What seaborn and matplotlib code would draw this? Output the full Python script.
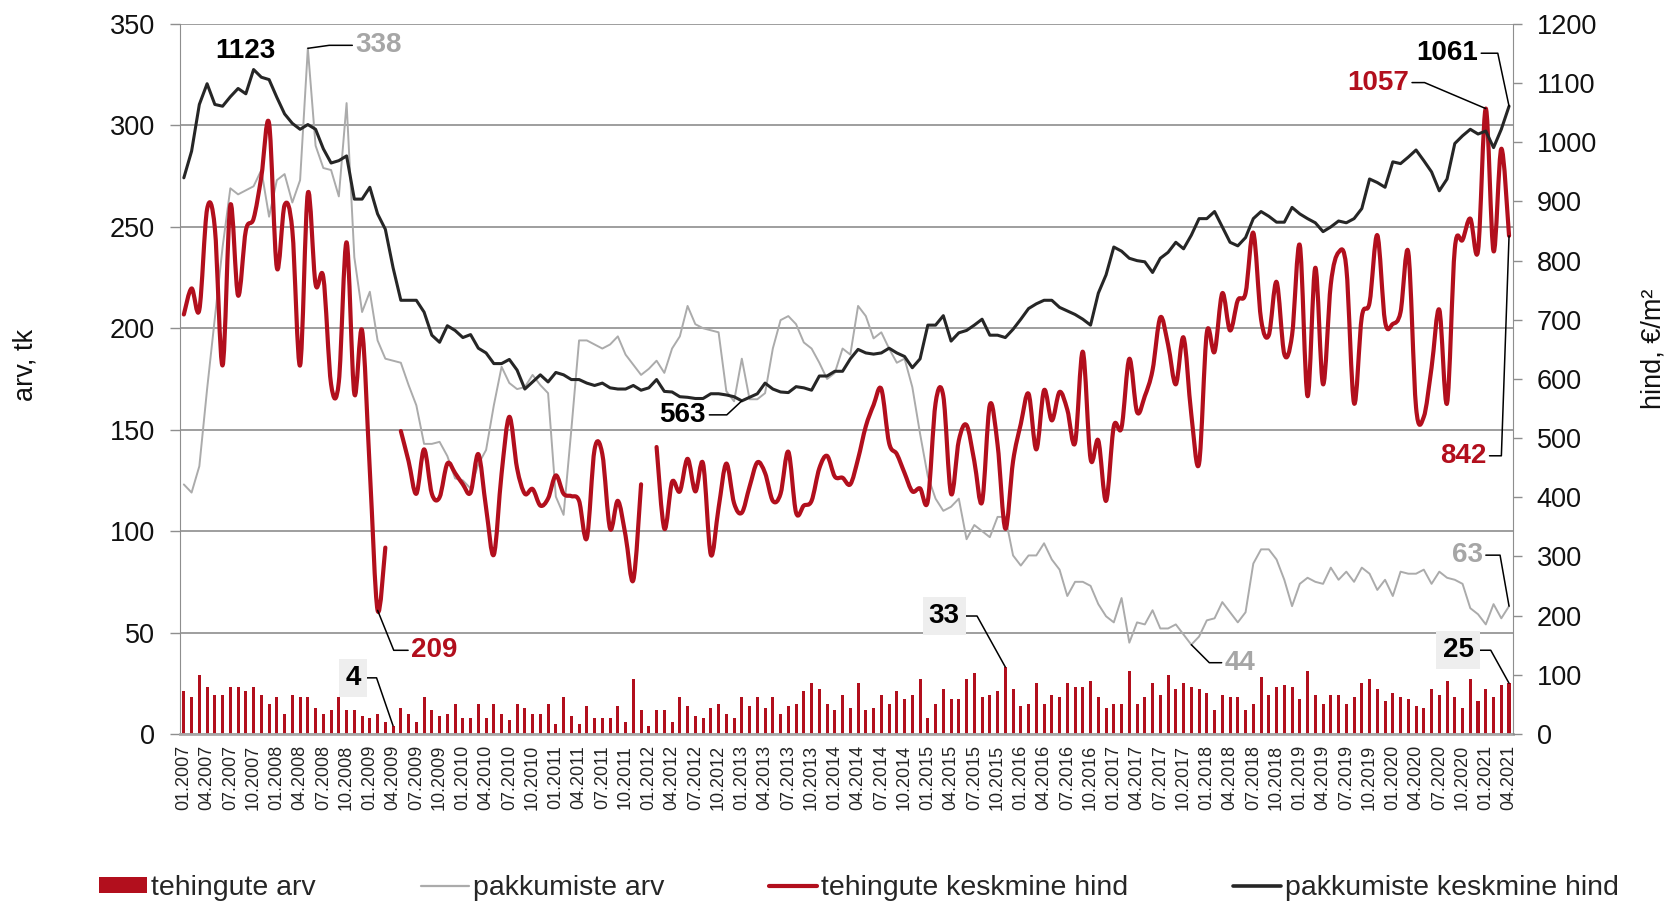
import numpy as np
import pandas as pd
import matplotlib
matplotlib.use('Agg')
import matplotlib.pyplot as plt
from matplotlib.path import Path
from matplotlib.patches import PathPatch, Patch
from matplotlib.lines import Line2D
from matplotlib import font_manager
import seaborn as sns

# tehingute arv (bars, left axis)
deals = [21, 18, 29, 23, 19, 19, 23, 23, 21, 23, 19, 15, 18, 10, 19, 18, 18, 13, 10, 12, 18, 12, 12, 9, 8, 10, 6, 4, 13, 10,
         6, 18, 12, 9, 10, 15, 8, 8, 15, 8, 15, 10, 7, 15, 13, 10, 10, 15, 5, 18, 9, 5, 14, 8, 8, 8, 14, 6, 27, 12,
         4, 12, 12, 6, 18, 14, 9, 8, 13, 15, 10, 8, 18, 14, 18, 13, 18, 10, 14, 15, 21, 25, 22, 15, 12, 19, 13, 25,
         12, 13, 19, 15, 21, 17, 19, 27, 8, 15, 22, 17, 17, 27, 30, 18, 19, 21, 33, 22, 14, 15, 25, 15, 19, 18, 25, 23, 23, 26, 18,
         13, 15, 15, 31, 15, 18, 25, 19, 29, 22, 25, 23, 22, 20, 12, 19, 18, 18, 12, 15, 28, 19, 23, 24,
         23, 17, 31, 19, 15, 19, 19, 15, 18, 25, 27, 22, 16, 20, 18, 17, 14, 13, 22, 19, 26, 18, 13, 27, 16, 22, 18, 24, 25]

# pakkumiste arv (grey line, left axis)
offers = [123, 119, 132, 170, 205, 240, 269, 266, 268, 270, 278, 255, 273, 276, 262, 273, 338, 290, 279, 278, 265, 311, 235, 208, 218, 194, 185, 184, 183, 172,
          162, 143, 143, 144, 137, 126, 125, 121, 133, 140, 162, 181, 173, 170, 171, 177, 172, 168, 117, 108, 150, 194, 194, 192, 190, 192, 196, 187, 182, 177,
          180, 184, 178, 190, 196, 211, 202, 200, 199, 198, 169, 164, 185, 165, 165, 168, 190, 204, 206, 202, 193, 190, 183, 175, 178, 190, 187, 211, 206,
          195, 198, 190, 183, 185, 171, 148, 127, 116, 110, 112, 116, 96, 103, 100, 97, 107, 107, 88, 83, 88, 88, 94, 86, 81, 68, 75, 75, 73, 64,
          58, 55, 67, 45, 55, 54, 61, 52, 52, 54, 49, 44, 48, 56, 57, 65, 60, 55, 60, 84, 91, 91, 86, 76, 63, 74, 77, 75, 74, 82,
          76, 80, 75, 82, 79, 71, 76, 68, 80, 79, 79, 81, 74, 80, 77, 76, 74, 62, 59, 54, 64, 57, 63]

# tehingute keskmine hind (red line, right axis); nan = no value
deal_price = [709, 753, 717, 887, 855, 623, 894, 741, 851, 871, 942, 1032, 788, 894, 851, 623, 914, 760, 772, 591, 595, 831, 575, 682, 445, 209, 315, np.nan, 512, 461,
              406, 481, 406, 400, 457, 441, 422, 408, 473, 382, 303, 440, 536, 449, 406, 414, 386, 398, 437, 406, 402, 394, 331, 481, 473, 347, 394, 335, 260, 422,
              np.nan, 485, 347, 426, 410, 465, 410, 457, 303, 382, 457, 390, 374, 418, 459, 441, 394, 406, 477, 374, 386, 394, 449, 470, 435, 433, 422, 465, 520,
              556, 583, 492, 473, 441, 410, 415, 394, 559, 571, 406, 496, 522, 461, 392, 556, 489, 347, 461, 524, 575, 481, 581, 530, 578, 548, 492, 646, 465, 496,
              394, 520, 518, 634, 544, 571, 615, 704, 658, 591, 670, 540, 457, 678, 646, 745, 682, 733, 745, 847, 701, 674, 764, 642, 674, 826, 571, 788, 591, 760,
              814, 788, 559, 705, 729, 843, 697, 693, 713, 814, 552, 536, 619, 717, 559, 820, 835, 871, 817, 1057, 816, 989, 842]

# pakkumiste keskmine hind (black line, right axis)
offer_price = [940, 985, 1064, 1099, 1064, 1061, 1077, 1091, 1082, 1123, 1110, 1106, 1076, 1048, 1032, 1022, 1030, 1022, 989, 965, 969, 977, 904, 904, 924, 879, 853, 788, 733, 733,
               733, 713, 674, 662, 690, 682, 670, 675, 652, 644, 626, 626, 633, 615, 583, 595, 607, 595, 611, 607, 599, 599, 593, 589, 593, 585, 583, 583, 589, 581,
               585, 599, 579, 578, 570, 569, 567, 567, 575, 575, 573, 570, 563, 569, 575, 593, 583, 578, 577, 587, 585, 581, 605, 605, 613, 613, 634, 650, 644,
               642, 644, 652, 644, 638, 619, 634, 691, 691, 707, 664, 678, 682, 691, 701, 674, 674, 670, 684, 701, 719, 727, 733, 733, 721, 715, 709, 701, 691, 745,
               776, 823, 816, 804, 800, 798, 780, 804, 814, 831, 820, 843, 871, 871, 883, 857, 831, 825, 839, 871, 883, 875, 865, 865, 890, 879, 871, 864, 849, 857,
               867, 864, 871, 888, 938, 932, 924, 967, 964, 975, 987, 969, 950, 918, 938, 998, 1011, 1022, 1014, 1019, 991, 1022, 1061]

months = [f'{m:02d}.{y}' for y in range(2007, 2022) for m in range(1, 13)][:len(deals)]
tick_labels = months[::3]

legend_labels = ['tehingute arv', 'pakkumiste arv', 'tehingute keskmine hind', 'pakkumiste keskmine hind']

df = pd.DataFrame({'i': np.arange(len(deals)), 'kuu': months, 'deals': deals, 'offers': offers,
                   'deal_price': deal_price, 'offer_price': offer_price})

RED = '#b20f1d'
GREY = '#ababab'
BLACK = '#262626'
GRID = '#8e8e8e'

sns.set_style('white')
names = {f.name for f in font_manager.fontManager.ttflist}
narrow = 'Liberation Sans Narrow' in names
plt.rcParams['font.family'] = ['Liberation Sans', 'DejaVu Sans']
title_font = ['Liberation Sans Narrow', 'Liberation Sans'] if narrow else ['Liberation Sans', 'DejaVu Sans']
title_size = 24 if narrow else 19.5
leg_size = 25 if narrow else 20.5


def smooth_path(x, y):
    # Excel-like smoothed line: Catmull-Rom segments as cubic Bezier, gaps at nan
    x = np.asarray(x, float)
    y = np.asarray(y, float)
    ok = ~np.isnan(y)
    runs, start = [], None
    for k in range(len(y)):
        if ok[k] and start is None:
            start = k
        if not ok[k] and start is not None:
            runs.append((start, k))
            start = None
    if start is not None:
        runs.append((start, len(y)))
    verts, codes = [], []
    for a, b in runs:
        px, py = x[a:b], y[a:b]
        n = len(px)
        verts.append((px[0], py[0]))
        codes.append(Path.MOVETO)
        for k in range(n - 1):
            k0, k3 = max(k - 1, 0), min(k + 2, n - 1)
            c1 = (px[k] + (px[k + 1] - px[k0]) / 6, py[k] + (py[k + 1] - py[k0]) / 6)
            c2 = (px[k + 1] - (px[k3] - px[k]) / 6, py[k + 1] - (py[k3] - py[k]) / 6)
            verts += [c1, c2, (px[k + 1], py[k + 1])]
            codes += [Path.CURVE4] * 3
    return Path(verts, codes)


fig = plt.figure(figsize=(16.71, 9.05), dpi=100)
ax = fig.add_axes([0.1077, 0.1890, 0.7977, 0.7845])

sns.barplot(data=df, x='i', y='deals', ax=ax, color=RED, width=0.4, native_scale=True,
            saturation=1, errorbar=None, linewidth=0)
sns.lineplot(data=df, x='i', y='offers', ax=ax, color=GREY, lw=1.4)

ax2 = ax.twinx()
sns.lineplot(data=df, x='i', y='offer_price', ax=ax2, color=BLACK, lw=2.2)
ax2.add_patch(PathPatch(smooth_path(df['i'], df['deal_price']), fc='none', ec=RED, lw=3,
                        capstyle='round', joinstyle='round'))

ax.set_xlim(-0.5, len(deals) - 0.5)
ax.set_ylim(0, 350)
ax2.set_ylim(0, 1200)
ax.set_yticks(range(0, 351, 50))
ax2.set_yticks(range(0, 1201, 100))
ax.set_xticks(range(0, len(deals), 3))
ax.set_xticklabels(tick_labels, rotation=90)
for a in (ax, ax2):
    a.set_xlabel('')
    a.set_ylabel('')

ax.grid(False)
ax2.grid(False)
ax.yaxis.grid(True, color=GRID, lw=1.2)
ax.set_axisbelow(True)

for s in ('top', 'right'):
    ax.spines[s].set_visible(False)
ax.spines['left'].set_color(GRID)
ax.spines['bottom'].set_color('#a8a8a8')
ax.spines['bottom'].set_linewidth(2)
for s in ('top', 'left', 'bottom'):
    ax2.spines[s].set_visible(False)
ax2.spines['right'].set_color(GRID)

ax.tick_params(axis='y', left=True, direction='out', length=7, width=1, color=GRID, pad=11,
               labelsize=19.5, labelcolor='#111111')
ax.tick_params(axis='x', bottom=False, length=0, pad=8, labelsize=13, labelcolor='#222222')
ax2.tick_params(axis='y', right=True, direction='out', length=6.5, width=1, color=GRID, pad=10.5,
                labelsize=19.5, labelcolor='#111111')

fig.text(25 / 1671, 1 - 365 / 905, 'arv, tk', rotation=90, ha='center', va='center',
         fontsize=title_size, family=title_font, color='#111111')
fig.text(1653 / 1671, 1 - 349 / 905, 'hind, €/m²', rotation=90, ha='center', va='center',
         fontsize=title_size, family=title_font, color='#111111')


def note(axis, idx, values, color, offset, angle=None, boxed=False):
    val = values[idx]
    kw = dict(textcoords='offset pixels', ha='center', va='center', fontsize=20,
              fontweight='bold', color=color, annotation_clip=False, zorder=10)
    if boxed:
        kw['bbox'] = dict(boxstyle='square,pad=0.22', fc='#eeeeee', ec='none')
    if angle is not None:
        kw['arrowprops'] = dict(arrowstyle='-', color='black', lw=1.1, shrinkA=0, shrinkB=0,
                                connectionstyle=f'angle,angleA=0,angleB={angle},rad=0')
    ax2.annotate(f'{val:.0f}', xy=(idx, val), xycoords=axis.transData, xytext=offset, **kw)


last = len(deals) - 1
dp = np.array(deal_price, float)
note(ax2, int(np.argmax(offer_price)), offer_price, 'black', (-8, 19))
note(ax, int(np.argmax(offers)), offers, '#a6a6a6', (71, 3), angle=8)
note(ax2, int(np.nanargmin(dp)), dp, RED, (57, -40), angle=-68)
note(ax, int(np.argmin(deals)), deals, 'black', (-40, 48), angle=-71, boxed=True)
note(ax2, int(np.argmin(offer_price)), offer_price, 'black', (-59, -14), angle=43)
note(ax, int(np.argmax(deals)), deals, 'black', (-61, 51), angle=-61, boxed=True)
note(ax, int(np.argmin(offers)), offers, '#a6a6a6', (49, -18), angle=-45)
note(ax2, last, offer_price, 'black', (-62, 53), angle=-78)
note(ax2, int(np.nanargmax(dp)), dp, RED, (-108, 26), angle=-23)
note(ax2, last, dp, RED, (-46, -220), angle=88)
note(ax, last, offers, '#a6a6a6', (-42, 51), angle=-80)
note(ax, last, deals, 'black', (-51, 33), angle=-61, boxed=True)

em = leg_size * 100 / 72
handles = [Patch(facecolor=RED, edgecolor='none'),
           Line2D([], [], color=GREY, lw=1.6),
           Line2D([], [], color=RED, lw=3),
           Line2D([], [], color=BLACK, lw=2.6)]
fig.legend(handles, legend_labels, loc='center', bbox_to_anchor=(859 / 1671, 1 - 888 / 905), ncol=4,
           frameon=False, prop={'family': title_font, 'size': leg_size},
           handlelength=48 / em, handletextpad=4 / em, columnspacing=105 / em,
           handleheight=15 / em, borderaxespad=0, borderpad=0)

fig.savefig('out.png', dpi=100, facecolor='white')
